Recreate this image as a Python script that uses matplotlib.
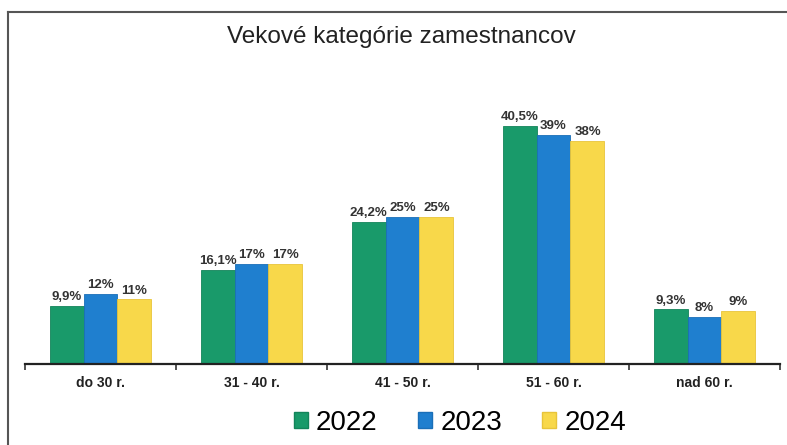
import matplotlib
matplotlib.use("Agg")
import matplotlib.pyplot as plt
import numpy as np
from matplotlib.lines import Line2D

categories = ["do 30 r.", "31 - 40 r.", "41 - 50 r.", "51 - 60 r.", "nad 60 r."]
years = ["2022", "2023", "2024"]
v2022 = [9.9, 16.1, 24.2, 40.5, 9.3]
v2023 = [12, 17, 25, 39, 8]
v2024 = [11, 17, 25, 38, 9]
labels2022 = ["9,9%", "16,1%", "24,2%", "40,5%", "9,3%"]
labels2023 = ["12%", "17%", "25%", "39%", "8%"]
labels2024 = ["11%", "17%", "25%", "38%", "9%"]

colors = ["#199a6a", "#1f7fcf", "#f8d84a"]
edge = ["#13845a", "#1a6fb8", "#e8c43a"]

plt.rcParams["font.family"] = ["Liberation Sans", "DejaVu Sans"]

W, H = 787, 445
fig = plt.figure(figsize=(W / 100, H / 100), dpi=100)
ax = fig.add_axes([25 / W, 1 - 364 / H, 755 / W, 264 / H])

x = np.arange(len(categories))
bw = 0.225
series = [v2022, v2023, v2024]
lbls = [labels2022, labels2023, labels2024]
for i, (vals, lab) in enumerate(zip(series, lbls)):
    pos = x + (i - 1) * bw
    ax.bar(pos, vals, width=bw, color=colors[i], edgecolor=edge[i], linewidth=0.6, zorder=2)
    for p, v, t in zip(pos, vals, lab):
        ax.text(p, v + 0.5, t, ha="center", va="bottom", fontsize=9.5, fontweight="bold",
                color="#333333")

ax.set_xlim(-0.5, len(categories) - 0.5)
ax.set_ylim(0, 45)
for s in ["top", "right", "left"]:
    ax.spines[s].set_visible(False)
ax.spines["bottom"].set_color("#222222")
ax.spines["bottom"].set_linewidth(1.6)
ax.set_yticks([])
ax.set_xticks(np.arange(len(categories) + 1) - 0.5, minor=False)
ax.set_xticklabels([])
ax.tick_params(axis="x", length=4, width=1.2, color="#333333", direction="out")
for xi, c in zip(x, categories):
    ax.text(xi, -3.2, c, ha="center", va="center", fontsize=10, fontweight="bold",
            color="#222222", clip_on=False)

fig.text(401 / W, 1 - 37 / H, "Vekové kategórie zamestnancov", ha="center", va="center",
         fontsize=17.5, color="#222222")

# frame
fig.add_artist(Line2D([8 / W, 8 / W], [0, 1 - 12 / H], transform=fig.transFigure,
                      color="#555555", linewidth=1.5))
fig.add_artist(Line2D([8 / W, 1], [1 - 12 / H, 1 - 12 / H], transform=fig.transFigure,
                      color="#555555", linewidth=1.5))

handles = [plt.Rectangle((0, 0), 1, 1, facecolor=c, edgecolor=e) for c, e in zip(colors, edge)]
fig.legend(handles, years, loc="center", bbox_to_anchor=(460 / W, 1 - 423 / H), ncol=3,
           frameon=False, fontsize=20, handlelength=0.5, handleheight=0.5,
           handletextpad=0.3, columnspacing=1.45)

fig.savefig("out.png", dpi=100)
